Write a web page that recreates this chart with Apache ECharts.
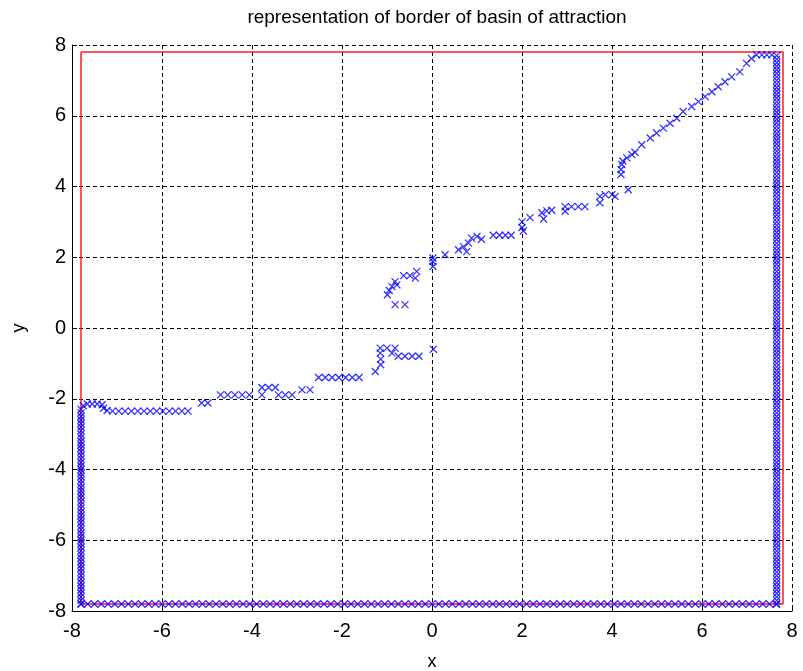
<!DOCTYPE html>
<html>
<head>
<meta charset="utf-8">
<script src="https://cdn.jsdelivr.net/npm/echarts@6.0.0/dist/echarts.min.js"></script>
<style>
  html, body { margin: 0; padding: 0; background: #fff; }
  #basin { width: 803px; height: 671px; }
</style>
</head>
<body>
<div id="basin"></div>
<script>
// red box (the domain border)
const boxX = [-7.8, 7.8, 7.8, -7.8, -7.8];
const boxY = [7.8, 7.8, -7.8, -7.8, 7.8];

// points found on the border of the basin
const bottomEdgeY = -7.8;
const bottomEdgeX = [-7.8,-7.65,-7.5,-7.35,-7.2,-7.05,-6.9,-6.75,-6.6,-6.45,-6.3,-6.15,-6,-5.85,-5.7,-5.55,-5.4,-5.25,-5.1,-4.95,-4.8,-4.65,-4.5,-4.35,-4.2,-4.05,-3.9,-3.75,-3.6,-3.45,-3.3,-3.15,-3,-2.85,-2.7,-2.55,-2.4,-2.25,-2.1,-1.95,-1.8,-1.65,-1.5,-1.35,-1.2,-1.05,-0.9,-0.75,-0.6,-0.45,-0.3,-0.15,0,0.15,0.3,0.45,0.6,0.75,0.9,1.05,1.2,1.35,1.5,1.65,1.8,1.95,2.1,2.25,2.4,2.55,2.7,2.85,3,3.15,3.3,3.45,3.6,3.75,3.9,4.05,4.2,4.35,4.5,4.65,4.8,4.95,5.1,5.25,5.4,5.55,5.7,5.85,6,6.15,6.3,6.45,6.6,6.75,6.9,7.05,7.2,7.35,7.5,7.65];

const leftEdgeX = -7.8;
const leftEdgeY = [-7.8,-7.7,-7.6,-7.5,-7.4,-7.3,-7.2,-7.1,-7,-6.9,-6.8,-6.7,-6.6,-6.5,-6.4,-6.3,-6.2,-6.1,-6,-5.9,-5.8,-5.7,-5.6,-5.5,-5.4,-5.3,-5.2,-5.1,-5,-4.9,-4.8,-4.7,-4.6,-4.5,-4.4,-4.3,-4.2,-4.1,-4,-3.9,-3.8,-3.7,-3.6,-3.5,-3.4,-3.3,-3.2,-3.1,-3,-2.9,-2.8,-2.7,-2.6,-2.5,-2.4,-2.3];

const rightEdgeX = 7.66;
const rightEdgeY = [7.7,7.6,7.5,7.4,7.3,7.2,7.1,7,6.9,6.8,6.7,6.6,6.5,6.4,6.3,6.2,6.1,6,5.9,5.8,5.7,5.6,5.5,5.4,5.3,5.2,5.1,5,4.9,4.8,4.7,4.6,4.5,4.4,4.3,4.2,4.1,4,3.9,3.8,3.7,3.6,3.5,3.4,3.3,3.2,3.1,3,2.9,2.8,2.7,2.6,2.5,2.4,2.3,2.2,2.1,2,1.9,1.8,1.7,1.6,1.5,1.4,1.3,1.2,1.1,1,0.9,0.8,0.7,0.6,0.5,0.4,0.3,0.2,0.1,0,-0.1,-0.2,-0.3,-0.4,-0.5,-0.6,-0.7,-0.8,-0.9,-1,-1.1,-1.2,-1.3,-1.4,-1.5,-1.6,-1.7,-1.8,-1.9,-2,-2.1,-2.2,-2.3,-2.4,-2.5,-2.6,-2.7,-2.8,-2.9,-3,-3.1,-3.2,-3.3,-3.4,-3.5,-3.6,-3.7,-3.8,-3.9,-4,-4.1,-4.2,-4.3,-4.4,-4.5,-4.6,-4.7,-4.8,-4.9,-5,-5.1,-5.2,-5.3,-5.4,-5.5,-5.6,-5.7,-5.8,-5.9,-6,-6.1,-6.2,-6.3,-6.4,-6.5,-6.6,-6.7,-6.8,-6.9,-7,-7.1,-7.2,-7.3,-7.4,-7.5,-7.6,-7.7,-7.8];

// the staircase through the middle, then the diagonal up to the top right corner
const pathX = [-7.75,-7.66,-7.55,-7.44,-7.33,-7.3,-7.22,
  -7.1,-6.96,-6.82,-6.68,-6.54,-6.4,-6.26,-6.12,-5.98,-5.84,-5.7,-5.56,-5.42,
  -5.12,-4.98,
  -4.7,-4.54,-4.38,-4.22,-4.06,
  -3.78,-3.63,-3.48,-3.78,-3.41,-3.26,-3.11,
  -2.89,-2.71,
  -2.52,-2.37,-2.22,-2.07,-1.92,-1.77,-1.62,
  -1.26,-1.14,-1.14,-1.15,-1.15,-1.0,-0.82,-0.89,
  -0.75,-0.6,-0.44,-0.29,
  0.03,
  -0.82,-0.6,
  -0.99,-0.95,-0.89,-0.78,-0.82,-0.63,-0.49,-0.34,-0.37,
  0.02,0.02,0.02,0.29,
  0.59,0.7,0.81,0.77,0.88,1.0,1.1,
  1.36,1.5,1.63,1.76,
  2.0,2.0,2.03,2.18,
  2.44,2.55,2.66,2.48,
  2.96,3.1,3.25,3.4,2.96,
  3.73,3.85,4.0,4.07,3.73,
  4.36,
  4.2,4.2,4.22,4.24,4.33,4.44,4.51,
  4.66,4.85,4.99,5.14,5.29,5.44,5.58,5.77,5.92,6.07,6.22,6.36,6.51,6.66,6.84,6.99,7.1,
  7.21,7.33,7.44,7.55];
const pathY = [-2.2,-2.15,-2.15,-2.15,-2.17,-2.27,-2.33,
  -2.35,-2.35,-2.35,-2.35,-2.35,-2.35,-2.35,-2.35,-2.35,-2.35,-2.35,-2.35,-2.35,
  -2.12,-2.12,
  -1.89,-1.89,-1.89,-1.89,-1.89,
  -1.68,-1.68,-1.68,-1.89,-1.89,-1.89,-1.89,
  -1.75,-1.75,
  -1.4,-1.4,-1.4,-1.4,-1.4,-1.4,-1.4,
  -1.23,-1.04,-0.88,-0.71,-0.57,-0.57,-0.57,-0.71,
  -0.8,-0.8,-0.8,-0.8,
  -0.6,
  0.66,0.66,
  0.94,1.06,1.17,1.22,1.31,1.48,1.48,1.6,1.41,
  1.98,1.88,1.74,2.07,
  2.21,2.3,2.4,2.16,2.54,2.59,2.51,
  2.62,2.62,2.62,2.62,
  3.0,2.84,2.74,3.12,
  3.26,3.31,3.33,3.08,
  3.43,3.43,3.43,3.43,3.3,
  3.72,3.77,3.77,3.72,3.54,
  3.91,
  4.34,4.48,4.62,4.72,4.81,4.9,4.97,
  5.18,5.37,5.51,5.65,5.79,5.93,6.12,6.26,6.4,6.54,6.68,6.82,6.96,7.1,7.24,7.48,7.62,
  7.72,7.72,7.72,7.72];

const chartDom = document.getElementById("basin");
const myChart = echarts.init(chartDom);

const borderPoints = []
  .concat(bottomEdgeX.map((x) => [x, bottomEdgeY]))
  .concat(leftEdgeY.map((y) => [leftEdgeX, y]))
  .concat(rightEdgeY.map((y) => [rightEdgeX, y]))
  .concat(pathX.map((x, i) => [x, pathY[i]]));

const font = "'Liberation Sans', Arial, sans-serif";

const option = {
  backgroundColor: "#fff",
  animation: false,
  title: {
    text: "representation of border of basin of attraction",
    left: 432,
    top: 3,
    textAlign: "center",
    textStyle: { fontFamily: font, fontSize: 19, fontWeight: "normal", color: "#000" },
  },
  grid: { left: 72, right: 11, top: 45, bottom: 60, outerBoundsMode: "none" },
  xAxis: {
    type: "value",
    min: -8,
    max: 8,
    interval: 2,
    name: "x",
    nameLocation: "middle",
    nameGap: 42,
    nameMoveOverlap: false,
    nameTextStyle: { fontFamily: font, fontSize: 18, color: "#000" },
    axisLine: { onZero: false, lineStyle: { color: "#000", width: 1 } },
    axisTick: { inside: true, length: 5, lineStyle: { color: "#000" } },
    axisLabel: { fontFamily: font, fontSize: 20, color: "#000", margin: 10 },
    splitLine: { show: true, lineStyle: { color: "#000", type: [4, 3], width: 1 } },
  },
  yAxis: {
    type: "value",
    min: -8,
    max: 8,
    interval: 2,
    name: "y",
    nameLocation: "middle",
    nameRotate: 90,
    nameGap: 44,
    nameMoveOverlap: false,
    nameTextStyle: { fontFamily: font, fontSize: 18, color: "#000" },
    axisLine: { show: true, onZero: false, lineStyle: { color: "#000", width: 1 } },
    axisTick: { show: true, inside: true, length: 5, lineStyle: { color: "#000" } },
    axisLabel: { fontFamily: font, fontSize: 20, color: "#000", margin: 6 },
    splitLine: { show: true, lineStyle: { color: "#000", type: [4, 3], width: 1 } },
  },
  series: [
    {
      type: "line",
      data: boxX.map((x, i) => [x, boxY[i]]),
      showSymbol: false,
      lineStyle: { color: "#ff1a1a", width: 1.5 },
      z: 2,
    },
    {
      type: "scatter",
      data: borderPoints,
      symbol: "path://M0,0L10,10M10,0L0,10",
      symbolSize: 7,
      itemStyle: { color: "rgba(0,0,0,0)", borderColor: "#0000ff", borderWidth: 1.3 },
      z: 3,
    },
  ],
};

option && myChart.setOption(option);
</script>
</body>
</html>
